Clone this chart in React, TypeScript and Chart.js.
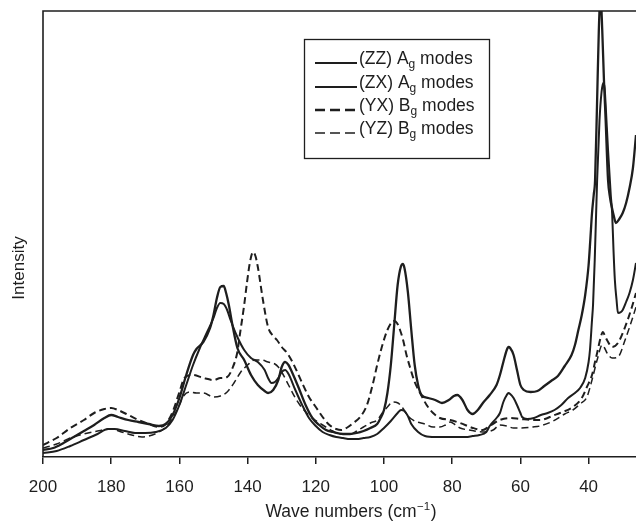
import React, { useEffect, useRef } from 'react';
import { Chart, registerables } from 'chart.js';

Chart.register(...registerables);

// ---- data (wavenumber in cm^-1, intensity in arbitrary units) ----
const zzWave = [200, 197, 194, 191, 188, 185, 182, 180, 178, 175, 172, 169, 166, 164, 162, 160, 158, 156, 155, 153, 151, 150, 149, 148, 147, 146.3, 145.5, 144.5, 143, 141, 139, 137, 135, 134, 132.5, 131, 130, 129, 128, 127, 125, 123, 121, 119, 117, 115, 112, 110, 108, 106, 104, 102, 101, 100, 99, 98, 97, 96, 95, 94.5, 94, 93, 92, 91, 90, 89, 87, 85, 83, 81, 79.5, 78.5, 77, 75.5, 74, 72.5, 71, 69, 67, 66, 65, 64, 63.5, 63, 62, 61, 60, 59, 57, 55, 53, 51, 49, 47, 45, 44, 43, 42, 41, 40, 39.5, 39, 38.5, 38.1, 37.5, 37, 36.5, 36, 35.5, 35, 34.3, 33.7, 33.2, 32.6, 32, 31, 30, 29, 28, 27, 26.1];
const zzInt = [7, 9, 14, 20, 26, 32, 39, 42, 40, 37, 35, 33, 31, 33, 42, 59, 82, 102, 108, 115, 129, 142, 159, 170, 171, 164, 152, 133, 109, 97, 82, 72, 66, 64, 67, 77, 90, 95, 92, 85, 69, 52, 39, 32, 27, 25, 23, 23, 24, 26, 29, 33, 39, 47, 64, 92, 132, 172, 191, 193, 189, 165, 127, 92, 72, 62, 59, 57, 54, 57, 61, 62, 57, 47, 43, 47, 54, 62, 72, 82, 95, 107, 110, 109, 102, 87, 72, 67, 65, 66, 71, 76, 81, 91, 102, 112, 127, 142, 162, 192, 217, 244, 262, 277, 357, 427, 462, 427, 377, 337, 277, 259, 250, 241, 234, 238, 244, 254, 269, 289, 322];

const zxWave = [200, 196, 192, 188, 184, 181, 179, 176, 173, 170, 167, 164, 162, 160, 158, 156, 154, 152, 150, 149, 148, 147, 146, 145, 143, 141, 139, 137, 135, 134, 133, 132, 131, 130, 129, 128, 126, 124, 122, 120, 118, 116, 114, 112, 110, 108, 106, 104, 102, 100, 98, 96, 95, 94, 93, 92, 90, 88, 85, 82, 79, 76, 74, 72, 70, 69, 67, 66, 65, 64, 63.5, 63, 62, 61, 60, 59.5, 58, 56, 54, 52, 50, 48, 46, 44, 42.5, 41, 40, 39.6, 39, 38.7, 38.2, 37.5, 36.8, 36.2, 35.7, 35.3, 35, 34.3, 33.5, 33.1, 32.7, 32.3, 31.8, 31.4, 30.5, 30, 29, 28, 27, 26.1];
const zxInt = [4, 6, 11, 17, 23, 28, 28, 26, 24, 24, 25, 29, 37, 52, 72, 92, 109, 124, 139, 149, 154, 153, 147, 137, 120, 107, 99, 95, 87, 79, 74, 75, 79, 85, 87, 83, 67, 52, 39, 31, 25, 22, 20, 19, 18, 18, 19, 20, 23, 29, 36, 44, 47, 46, 41, 33, 25, 21, 20, 20, 20, 20, 21, 22, 25, 31, 39, 44, 55, 62, 64, 63, 59, 52, 44, 40, 38, 39, 42, 44, 47, 52, 59, 64, 69, 79, 95, 107, 137, 152, 197, 277, 337, 365, 374, 369, 352, 307, 262, 244, 207, 177, 157, 144, 145, 147, 155, 164, 177, 194];

const yxWave = [200, 196, 192, 188, 185, 182, 180, 178, 175, 172, 169, 166, 164, 162, 160, 158.5, 156, 153, 150, 148, 146, 144.3, 143, 142.2, 141, 140.2, 139.3, 138.4, 137.7, 137, 135.5, 134, 132.5, 131.4, 130, 128.4, 126.7, 124, 122, 120, 118, 116, 114, 112.5, 111, 109, 107, 105, 103.2, 102, 100.3, 99, 97.7, 97, 96.2, 95.3, 94.4, 93.4, 92.4, 91, 89.4, 87.5, 85.6, 83.6, 80.6, 77.7, 73.9, 71, 69, 66, 63, 60, 56.3, 54.3, 50, 48.4, 44.6, 42, 40.5, 39, 38, 37.5, 36.5, 35.8, 35.2, 34.6, 33.1, 31.4, 29.3, 27.3, 26.1];
const yxInt = [12, 19, 29, 37, 44, 48, 49, 47, 42, 37, 33, 30, 33, 45, 65, 79, 82, 79, 77, 79, 80, 90, 105, 124, 152, 174, 195, 205, 201, 190, 157, 130, 121, 117, 110, 104, 94, 74, 60, 50, 40, 32, 28, 27, 29, 34, 40, 52, 74, 92, 114, 127, 135, 136, 134, 127, 117, 102, 90, 75, 64, 52, 44, 39, 37, 34, 29, 27, 31, 37, 39, 38, 37, 37, 42, 44, 50, 59, 70, 82, 97, 104, 119, 125, 121, 117, 110, 114, 130, 150, 164];

const yzWave = [200, 196, 192, 188, 184, 180, 177, 174, 171, 169, 166, 164, 162, 160, 159, 157, 155, 153, 150, 148, 146, 144, 142, 140, 138, 136, 134, 132, 131, 130, 128, 126, 124, 121, 118, 115, 113, 110, 108, 106, 104, 102, 100.5, 99, 97.4, 95.9, 94.5, 93, 91, 88, 85.6, 83.6, 82, 80.6, 79, 77.7, 75, 71, 68, 66, 64, 62, 60, 56.3, 54.3, 50.4, 47, 44.6, 42.5, 40.5, 39, 37.5, 36, 35.3, 34.6, 33.1, 31.4, 29.3, 27.3, 26.1];
const yzInt = [9, 13, 19, 23, 26, 28, 25, 22, 20, 21, 25, 30, 39, 52, 60, 65, 64, 64, 60, 61, 65, 74, 85, 92, 97, 97, 95, 93, 90, 85, 72, 59, 49, 39, 32, 26, 23, 23, 26, 30, 34, 37, 44, 50, 55, 54, 49, 41, 36, 33, 30, 30, 32, 35, 32, 29, 27, 25, 27, 32, 31, 29, 29, 30, 31, 36, 43, 47, 53, 60, 77, 97, 112, 109, 104, 99, 100, 117, 137, 150];

const xTickValues = [200, 180, 160, 140, 120, 100, 80, 60, 40];
const xMin = 26.1;
const xMax = 200;
const yMax = 446;

const legendPrefixes = ['(ZZ) A', '(ZX) A', '(YX) B', '(YZ) B'];
const legendSubs = ['g', 'g', 'g', 'g'];
const legendSuffixes = [' modes', ' modes', ' modes', ' modes'];

const FONT = '"Liberation Sans", Arial, Helvetica, sans-serif';
const INK = '#1e1e1e';

const seriesStyles = [
  { width: 2.3, dash: [] as number[], legendWidth: 2.2, legendDash: [] as number[] },
  { width: 2.0, dash: [] as number[], legendWidth: 2.2, legendDash: [] as number[] },
  { width: 2.0, dash: [7, 4], legendWidth: 2.4, legendDash: [10, 5] },
  { width: 1.5, dash: [7, 4], legendWidth: 1.5, legendDash: [10, 5] },
];

const decorPlugin = {
  id: 'decor',
  afterDraw(chart: any) {
    const ctx = chart.ctx as CanvasRenderingContext2D;
    const a = chart.chartArea;
    ctx.save();
    // frame: top and left
    ctx.strokeStyle = INK;
    ctx.lineWidth = 1.6;
    ctx.setLineDash([]);
    ctx.beginPath();
    ctx.moveTo(a.left, a.bottom);
    ctx.lineTo(a.left, a.top);
    ctx.lineTo(chart.width, a.top);
    ctx.stroke();

    // y label
    ctx.fillStyle = INK;
    ctx.font = `17px ${FONT}`;
    ctx.textAlign = 'center';
    ctx.textBaseline = 'middle';
    ctx.save();
    ctx.translate(19, 268);
    ctx.rotate(-Math.PI / 2);
    ctx.fillText('Intensity', 0, 0);
    ctx.restore();

    // x title with superscript
    const mainFont = `17.5px ${FONT}`;
    const supFont = `11.5px ${FONT}`;
    const t1 = 'Wave numbers (cm';
    const t2 = '\u22121';
    const t3 = ')';
    ctx.font = mainFont;
    const w1 = ctx.measureText(t1).width;
    const w3 = ctx.measureText(t3).width;
    ctx.font = supFont;
    const w2 = ctx.measureText(t2).width;
    const total = w1 + w2 + w3 + 1;
    let x = 351 - total / 2;
    const base = 517;
    ctx.textAlign = 'left';
    ctx.textBaseline = 'alphabetic';
    ctx.font = mainFont;
    ctx.fillText(t1, x, base);
    x += w1 + 0.5;
    ctx.font = supFont;
    ctx.fillText(t2, x, base - 7);
    x += w2 + 0.5;
    ctx.font = mainFont;
    ctx.fillText(t3, x, base);

    // legend box
    ctx.fillStyle = '#ffffff';
    ctx.fillRect(304.5, 39.5, 185, 119);
    ctx.strokeStyle = INK;
    ctx.lineWidth = 1.3;
    ctx.strokeRect(304.5, 39.5, 185, 119);
    const baselines = [64, 88, 111, 134];
    legendPrefixes.forEach((p, i) => {
      const st = seriesStyles[i];
      const by = baselines[i];
      ctx.strokeStyle = INK;
      ctx.lineWidth = st.legendWidth;
      ctx.setLineDash(st.legendDash);
      ctx.beginPath();
      ctx.moveTo(315, by - 1);
      ctx.lineTo(357, by - 1);
      ctx.stroke();
      ctx.setLineDash([]);
      ctx.fillStyle = INK;
      let tx = 359;
      ctx.font = `17.5px ${FONT}`;
      ctx.fillText(p, tx, by);
      tx += ctx.measureText(p).width;
      ctx.font = `12px ${FONT}`;
      ctx.fillText(legendSubs[i], tx, by + 4);
      tx += ctx.measureText(legendSubs[i]).width;
      ctx.font = `17.5px ${FONT}`;
      ctx.fillText(legendSuffixes[i], tx, by);
    });
    ctx.restore();
  },
};

function pts(w: number[], v: number[]) {
  return w.map((x, i) => ({ x, y: v[i] }));
}

export default function App() {
  const ref = useRef<HTMLCanvasElement | null>(null);
  useEffect(() => {
    if (!ref.current) return;
    const series = [
      pts(zzWave, zzInt),
      pts(zxWave, zxInt),
      pts(yxWave, yxInt),
      pts(yzWave, yzInt),
    ];
    const chart = new Chart(ref.current, {
      type: 'line',
      data: {
        datasets: series.map((d, i) => ({
          data: d,
          borderColor: INK,
          borderWidth: seriesStyles[i].width,
          borderDash: seriesStyles[i].dash,
          pointRadius: 0,
          fill: false,
          cubicInterpolationMode: 'monotone' as const,
        })),
      },
      options: {
        responsive: false,
        animation: false,
        devicePixelRatio: 1,
        layout: { padding: { left: 43, right: 0, top: 11, bottom: 0 } },
        plugins: { legend: { display: false }, tooltip: { enabled: false } },
        scales: {
          x: {
            type: 'linear',
            reverse: true,
            min: xMin,
            max: xMax,
            afterBuildTicks: (s: any) => {
              s.ticks = xTickValues.map((v) => ({ value: v }));
            },
            afterFit: (s: any) => {
              s.height = 523 - 457;
            },
            grid: {
              display: true,
              drawOnChartArea: false,
              drawTicks: true,
              tickLength: 7,
              color: INK,
              lineWidth: 1.5,
            },
            border: { display: true, color: INK, width: 1.6 },
            ticks: {
              font: { family: FONT, size: 17 },
              color: INK,
              padding: 13,
              maxRotation: 0,
              autoSkip: false,
            },
          },
          y: { display: false, min: 0, max: yMax },
        },
      },
      plugins: [decorPlugin],
    });
    return () => chart.destroy();
  }, []);
  return (
    <div style={{ position: 'absolute', left: 0, top: 0, width: 636, height: 523, background: '#fff' }}>
      <canvas ref={ref} width={636} height={523} />
    </div>
  );
}
